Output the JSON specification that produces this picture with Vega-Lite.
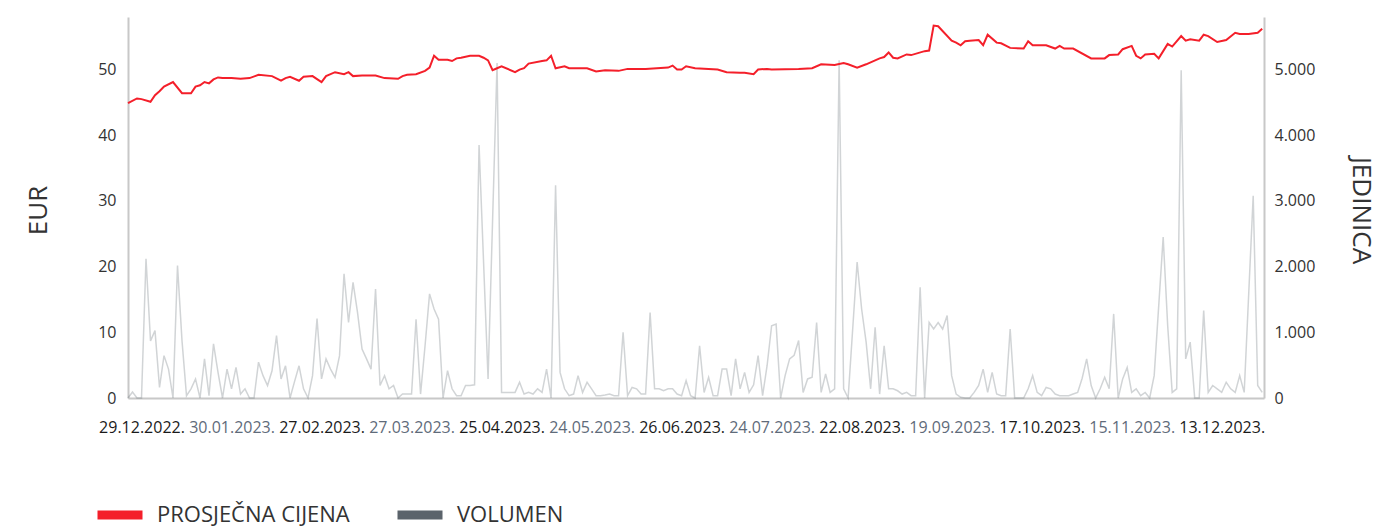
{
 "$schema": "https://vega.github.io/schema/vega-lite/v6.json",
 "width": 1136, "height": 381,
 "autosize": {"type": "none"},
 "padding": {"left": 128, "top": 17, "right": 132, "bottom": 131},
 "background": "white",
 "config": {"view": {"stroke": null}, "font": "Open Sans"},
 "datasets": {
  "volume": [
   {"i":0,"v":0},{"i":1,"v":90},{"i":2,"v":0},{"i":3,"v":0},{"i":4,"v":2120},{"i":5,"v":870},{"i":6,"v":1025},{"i":7,"v":160},{"i":8,"v":645},{"i":9,"v":440},
   {"i":10,"v":0},{"i":11,"v":2015},{"i":12,"v":870},{"i":13,"v":35},{"i":14,"v":140},{"i":15,"v":290},{"i":16,"v":0},{"i":17,"v":595},{"i":18,"v":35},{"i":19,"v":825},
   {"i":20,"v":390},{"i":21,"v":0},{"i":22,"v":440},{"i":23,"v":140},{"i":24,"v":465},{"i":25,"v":60},{"i":26,"v":140},{"i":27,"v":0},{"i":28,"v":0},{"i":29,"v":545},
   {"i":30,"v":340},{"i":31,"v":190},{"i":32,"v":415},{"i":33,"v":950},{"i":34,"v":290},{"i":35,"v":490},{"i":36,"v":0},{"i":37,"v":250},{"i":38,"v":490},{"i":39,"v":140},
   {"i":40,"v":0},{"i":41,"v":340},{"i":42,"v":1210},{"i":43,"v":290},{"i":44,"v":595},{"i":45,"v":440},{"i":46,"v":315},{"i":47,"v":645},{"i":48,"v":1890},{"i":49,"v":1150},
   {"i":50,"v":1760},{"i":51,"v":1300},{"i":52,"v":745},{"i":53,"v":595},{"i":54,"v":440},{"i":55,"v":1660},{"i":56,"v":190},{"i":57,"v":340},{"i":58,"v":140},{"i":59,"v":190},
   {"i":60,"v":0},{"i":61,"v":60},{"i":62,"v":60},{"i":63,"v":60},{"i":64,"v":1200},{"i":65,"v":60},{"i":66,"v":795},{"i":67,"v":1585},{"i":68,"v":1355},{"i":69,"v":1200},
   {"i":70,"v":0},{"i":71,"v":415},{"i":72,"v":140},{"i":73,"v":35},{"i":74,"v":35},{"i":75,"v":190},{"i":76,"v":190},{"i":77,"v":200},{"i":78,"v":3850},{"i":80,"v":290},
   {"i":82,"v":5100},{"i":83,"v":85},{"i":84,"v":85},{"i":85,"v":85},{"i":86,"v":85},{"i":87,"v":240},{"i":88,"v":60},{"i":89,"v":85},{"i":90,"v":60},{"i":91,"v":140},
   {"i":92,"v":85},{"i":93,"v":440},{"i":94,"v":0},{"i":95,"v":3240},{"i":96,"v":390},{"i":97,"v":140},{"i":98,"v":35},{"i":99,"v":60},{"i":100,"v":340},{"i":101,"v":85},
   {"i":102,"v":240},{"i":103,"v":140},{"i":104,"v":35},{"i":105,"v":35},{"i":106,"v":45},{"i":107,"v":60},{"i":108,"v":35},{"i":109,"v":35},{"i":110,"v":1000},{"i":111,"v":35},
   {"i":112,"v":160},{"i":113,"v":140},{"i":114,"v":60},{"i":115,"v":60},{"i":116,"v":1300},{"i":117,"v":140},{"i":118,"v":140},{"i":119,"v":110},{"i":120,"v":140},{"i":121,"v":140},
   {"i":122,"v":60},{"i":123,"v":35},{"i":124,"v":265},{"i":125,"v":35},{"i":126,"v":0},{"i":127,"v":795},{"i":128,"v":85},{"i":129,"v":315},{"i":130,"v":35},{"i":131,"v":35},
   {"i":132,"v":440},{"i":133,"v":440},{"i":134,"v":35},{"i":135,"v":595},{"i":136,"v":140},{"i":137,"v":390},{"i":138,"v":85},{"i":139,"v":200},{"i":140,"v":645},{"i":141,"v":35},
   {"i":142,"v":495},{"i":143,"v":1100},{"i":144,"v":1125},{"i":145,"v":0},{"i":146,"v":340},{"i":147,"v":595},{"i":148,"v":650},{"i":149,"v":875},{"i":150,"v":85},{"i":151,"v":290},
   {"i":152,"v":315},{"i":153,"v":1150},{"i":154,"v":85},{"i":155,"v":365},{"i":156,"v":85},{"i":157,"v":140},{"i":158,"v":5140},{"i":159,"v":140},{"i":160,"v":0},{"i":162,"v":2070},
   {"i":163,"v":1355},{"i":164,"v":850},{"i":165,"v":140},{"i":166,"v":1075},{"i":167,"v":60},{"i":168,"v":795},{"i":169,"v":140},{"i":170,"v":140},{"i":171,"v":110},{"i":172,"v":60},
   {"i":173,"v":85},{"i":174,"v":35},{"i":175,"v":35},{"i":176,"v":1685},{"i":177,"v":0},{"i":178,"v":1150},{"i":179,"v":1050},{"i":180,"v":1150},{"i":181,"v":1050},{"i":182,"v":1255},
   {"i":183,"v":340},{"i":184,"v":60},{"i":185,"v":10},{"i":186,"v":0},{"i":187,"v":0},{"i":188,"v":85},{"i":189,"v":190},{"i":190,"v":440},{"i":191,"v":85},{"i":192,"v":390},
   {"i":193,"v":60},{"i":194,"v":35},{"i":195,"v":35},{"i":196,"v":1050},{"i":197,"v":0},{"i":198,"v":0},{"i":199,"v":0},{"i":200,"v":140},{"i":201,"v":340},{"i":202,"v":85},
   {"i":203,"v":35},{"i":204,"v":160},{"i":205,"v":140},{"i":206,"v":60},{"i":207,"v":35},{"i":208,"v":35},{"i":209,"v":35},{"i":210,"v":60},{"i":211,"v":85},{"i":212,"v":300},
   {"i":213,"v":595},{"i":214,"v":190},{"i":215,"v":0},{"i":216,"v":140},{"i":217,"v":315},{"i":218,"v":140},{"i":219,"v":1280},{"i":220,"v":0},{"i":221,"v":290},{"i":222,"v":465},
   {"i":223,"v":85},{"i":224,"v":140},{"i":225,"v":35},{"i":226,"v":85},{"i":227,"v":0},{"i":228,"v":340},{"i":230,"v":2450},{"i":231,"v":1100},{"i":232,"v":85},{"i":233,"v":140},
   {"i":234,"v":4990},{"i":235,"v":595},{"i":236,"v":850},{"i":237,"v":0},{"i":238,"v":0},{"i":239,"v":1330},{"i":240,"v":85},{"i":241,"v":190},{"i":242,"v":140},{"i":243,"v":85},
   {"i":244,"v":240},{"i":245,"v":140},{"i":246,"v":85},{"i":247,"v":340},{"i":248,"v":85},{"i":250,"v":3080},{"i":251,"v":190},{"i":252,"v":85}
  ],
  "price": [
   {"i":0,"p":44.9},{"i":2,"p":45.6},{"i":3,"p":45.5},{"i":5,"p":45.1},{"i":6,"p":46.1},{"i":7,"p":46.7},{"i":8,"p":47.4},{"i":10,"p":48.1},{"i":12,"p":46.4},{"i":13,"p":46.4},
   {"i":14,"p":46.4},{"i":15,"p":47.4},{"i":16,"p":47.6},{"i":17,"p":48.1},{"i":18,"p":47.9},{"i":19,"p":48.5},{"i":20,"p":48.8},{"i":21,"p":48.7},{"i":23,"p":48.7},{"i":25,"p":48.6},
   {"i":27,"p":48.7},{"i":29,"p":49.2},{"i":32,"p":49.0},{"i":34,"p":48.3},{"i":35,"p":48.7},{"i":36,"p":48.9},{"i":38,"p":48.3},{"i":39,"p":48.9},{"i":41,"p":49.0},{"i":43,"p":48.1},
   {"i":44,"p":49.0},{"i":46,"p":49.6},{"i":48,"p":49.3},{"i":49,"p":49.6},{"i":50,"p":49.0},{"i":52,"p":49.1},{"i":55,"p":49.1},{"i":57,"p":48.7},{"i":60,"p":48.6},{"i":61,"p":49.0},
   {"i":62,"p":49.2},{"i":64,"p":49.3},{"i":66,"p":49.8},{"i":67,"p":50.3},{"i":68,"p":52.1},{"i":69,"p":51.5},{"i":71,"p":51.5},{"i":72,"p":51.3},{"i":73,"p":51.7},{"i":74,"p":51.8},
   {"i":76,"p":52.1},{"i":78,"p":52.1},{"i":79,"p":51.8},{"i":80,"p":51.4},{"i":81,"p":49.9},{"i":82,"p":50.2},{"i":83,"p":50.5},{"i":86,"p":49.6},{"i":87,"p":50.0},{"i":88,"p":50.2},
   {"i":89,"p":50.9},{"i":92,"p":51.3},{"i":93,"p":51.4},{"i":94,"p":52.1},{"i":95,"p":50.2},{"i":97,"p":50.5},{"i":98,"p":50.2},{"i":102,"p":50.2},{"i":104,"p":49.7},{"i":106,"p":49.9},
   {"i":109,"p":49.8},{"i":111,"p":50.1},{"i":115,"p":50.1},{"i":120,"p":50.3},{"i":121,"p":50.6},{"i":122,"p":50.0},{"i":123,"p":50.0},{"i":124,"p":50.5},{"i":126,"p":50.2},{"i":131,"p":50.0},
   {"i":133,"p":49.6},{"i":136,"p":49.5},{"i":137,"p":49.5},{"i":139,"p":49.3},{"i":140,"p":50.0},{"i":142,"p":50.1},{"i":143,"p":50.0},{"i":149,"p":50.1},{"i":152,"p":50.2},{"i":154,"p":50.8},
   {"i":157,"p":50.7},{"i":159,"p":51.0},{"i":160,"p":50.8},{"i":162,"p":50.3},{"i":164,"p":50.8},{"i":167,"p":51.7},{"i":168,"p":51.9},{"i":169,"p":52.6},{"i":170,"p":51.8},{"i":171,"p":51.7},
   {"i":173,"p":52.3},{"i":174,"p":52.2},{"i":177,"p":52.8},{"i":178,"p":52.9},{"i":179,"p":56.7},{"i":180,"p":56.6},{"i":183,"p":54.4},{"i":184,"p":54.1},{"i":185,"p":53.7},{"i":186,"p":54.3},
   {"i":187,"p":54.4},{"i":189,"p":54.5},{"i":190,"p":53.7},{"i":191,"p":55.3},{"i":193,"p":54.1},{"i":194,"p":54.0},{"i":196,"p":53.3},{"i":199,"p":53.2},{"i":200,"p":54.3},{"i":201,"p":53.7},
   {"i":204,"p":53.7},{"i":206,"p":53.2},{"i":207,"p":53.6},{"i":208,"p":53.2},{"i":210,"p":53.2},{"i":214,"p":51.7},{"i":217,"p":51.7},{"i":218,"p":52.2},{"i":220,"p":52.3},{"i":221,"p":53.1},
   {"i":223,"p":53.6},{"i":224,"p":52.1},{"i":225,"p":51.7},{"i":226,"p":52.3},{"i":228,"p":52.4},{"i":229,"p":51.7},{"i":231,"p":53.9},{"i":232,"p":53.5},{"i":234,"p":55.1},{"i":235,"p":54.4},
   {"i":236,"p":54.6},{"i":238,"p":54.4},{"i":239,"p":55.3},{"i":240,"p":55.1},{"i":242,"p":54.2},{"i":244,"p":54.5},{"i":246,"p":55.6},{"i":247,"p":55.4},{"i":249,"p":55.4},{"i":251,"p":55.6},
   {"i":252,"p":56.2}
  ]
 },
 "layer": [
  {
   "data": {"name": "volume"},
   "mark": {"type": "line", "strokeWidth": 1.5, "strokeOpacity": 0.28, "interpolate": "linear"},
   "encoding": {
    "x": {"field": "i", "type": "quantitative",
     "scale": {"domain": [0, 252.4], "nice": false, "zero": false},
     "axis": {"values": [3,23,43,63,83,103,123,143,163,183,203,223,243],
      "labelExpr": "['29.12.2022.','30.01.2023.','27.02.2023.','27.03.2023.','25.04.2023.','24.05.2023.','26.06.2023.','24.07.2023.','22.08.2023.','19.09.2023.','17.10.2023.','15.11.2023.','13.12.2023.'][round((datum.value-3)/20)]",
      "ticks": false, "grid": false, "domainColor": "#c8c8c8", "domainWidth": 2,
      "labelFontSize": 16, "labelPadding": 21, "labelFont": "Open Sans",
      "labelColor": {"condition": {"test": "datum.value % 40 == 23", "value": "#5f6b7a"}, "value": "#1a1a1a"},
      "labelOverlap": false, "labelFlush": false, "title": null}},
    "y": {"field": "v", "type": "quantitative",
     "scale": {"domain": [0, 5800], "nice": false},
     "axis": {"orient": "right", "values": [0,1000,2000,3000,4000,5000],
      "labelExpr": "replace(format(datum.value, ','), ',', '.')",
      "ticks": false, "grid": false, "domainColor": "#c8c8c8", "domainWidth": 2,
      "labelFontSize": 16, "labelPadding": 10, "labelColor": "#333333", "labelFont": "Open Sans",
      "title": "JEDINICA", "titleAngle": 90, "titleX": 96, "titleY": 193, "titleBaseline": "middle",
      "titleFontSize": 26, "titleFontWeight": "normal", "titleColor": "#333333", "titleFont": "Open Sans"}},
    "color": {"datum": "VOLUMEN", "type": "nominal",
     "scale": {"domain": ["PROSJEČNA CIJENA", "VOLUMEN"], "range": ["#f41f2a", "#5b636b"]},
     "legend": {"orient": "none", "legendX": -35, "legendY": 471, "direction": "horizontal", "title": null,
      "symbolType": "stroke", "symbolStrokeWidth": 9, "symbolSize": 2025, "symbolOpacity": 1,
      "labelFontSize": 22, "labelColor": "#333333", "labelFont": "Open Sans", "labelOffset": 10, "labelLimit": 400, "columnPadding": 29}}
   }
  },
  {
   "data": {"name": "price"},
   "mark": {"type": "line", "strokeWidth": 2, "interpolate": "linear"},
   "encoding": {
    "x": {"field": "i", "type": "quantitative", "scale": {"domain": [0, 252.4], "nice": false, "zero": false}},
    "y": {"field": "p", "type": "quantitative",
     "scale": {"domain": [0, 58], "nice": false},
     "axis": {"orient": "left", "values": [0,10,20,30,40,50],
      "ticks": false, "grid": false, "domainColor": "#c8c8c8", "domainWidth": 2,
      "labelFontSize": 16, "labelPadding": 12, "labelColor": "#333333", "labelFont": "Open Sans",
      "title": "EUR", "titleAngle": -90, "titleX": -90, "titleY": 193, "titleBaseline": "middle",
      "titleFontSize": 26, "titleFontWeight": "normal", "titleColor": "#333333", "titleFont": "Open Sans"}},
    "color": {"datum": "PROSJEČNA CIJENA", "type": "nominal",
     "scale": {"domain": ["PROSJEČNA CIJENA", "VOLUMEN"], "range": ["#f41f2a", "#5b636b"]}}
   }
  }
 ],
 "resolve": {"scale": {"y": "independent"}}
}
